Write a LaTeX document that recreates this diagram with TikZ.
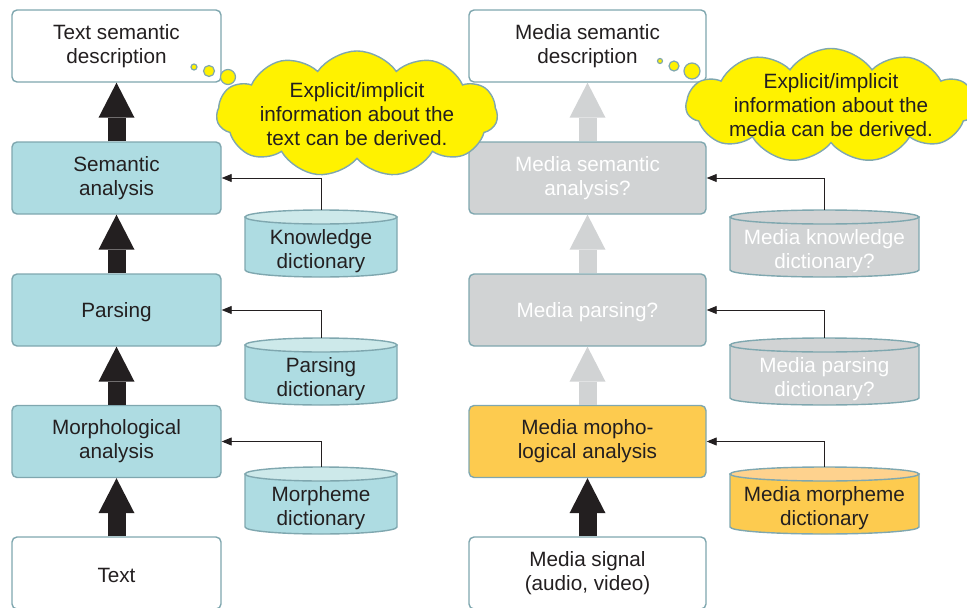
\documentclass[tikz,border=0pt]{standalone}
\usepackage{fontspec}
\setmainfont{Liberation Sans}
\usetikzlibrary{shapes.symbols,arrows.meta}

\definecolor{edge}{HTML}{7FA7AF}
\definecolor{lblue}{HTML}{AEDCE2}
\definecolor{lbluetop}{HTML}{CDE9EA}
\definecolor{lgray}{HTML}{D1D3D4}
\definecolor{lorange}{HTML}{FDCB4F}
\definecolor{lorangetop}{HTML}{FED28E}
\definecolor{thought}{HTML}{FFF200}
\definecolor{ink}{HTML}{231F20}

% drum behind a dictionary: centre x, top y, half width, body colour, top colour
\newcommand{\drum}[5]{%
  \filldraw[drumline,fill=#4] ({#1-#3},{#2+7}) -- ({#1-#3},{#2+60})
    arc[start angle=180,end angle=360,x radius=#3pt,y radius=7pt] -- ({#1+#3},{#2+7}) -- cycle;
  \filldraw[drumline,fill=#5] (#1,{#2+7}) ellipse [x radius=#3pt,y radius=7pt];
}

\tikzset{
  box/.style={rectangle,rounded corners=5pt,draw=edge,line width=1.4pt,minimum height=72pt,align=center,inner sep=0pt,execute at begin node=\rule{0pt}{19pt}},
  lbox/.style={box,minimum width=209pt},
  rbox/.style={box,minimum width=237pt},
  drumline/.style={draw=edge,line width=1.4pt},
  dict/.style={rectangle,minimum height=82pt,align=center,inner sep=0pt,outer sep=0pt},
  bigarrow/.style={line width=18pt,-{Triangle[length=35pt,width=36pt,line width=0pt]}},
  feed/.style={ink,line width=0.9pt,-{Triangle[length=10pt,width=8pt]}},
  cloudy/.style={cloud,cloud puffs=11,cloud puff arc=110,cloud ignores aspect,fill=thought,draw=edge,line width=1.4pt,align=center,inner sep=0pt},
  bubble/.style={fill=thought,draw=edge,line width=1.2pt}
}

\begin{document}
\begin{tikzpicture}[x=1pt,y=-1pt,font=\fontsize{20.7}{24}\selectfont,text=ink]
\useasboundingbox (0,0) rectangle (967,608);

% text side
\node[lbox,fill=white] (tdesc) at (116.5,46) {Text semantic\\description};
\node[lbox,fill=lblue] (tsem) at (116.5,178) {Semantic\\analysis};
\node[lbox,fill=lblue] (tpars) at (116.5,310) {Parsing};
\node[lbox,fill=lblue] (tmorph) at (116.5,441.5) {Morphological\\analysis};
\node[lbox,fill=white] (ttext) at (116.5,573) {Text};

\drum{321}{210}{76}{lblue}{lbluetop}
\drum{321}{338}{76}{lblue}{lbluetop}
\drum{321}{467}{76}{lblue}{lbluetop}
\node[dict] (tknow) at (321,251) {Knowledge\\dictionary};
\node[dict] (tpdict) at (321,379) {Parsing\\dictionary};
\node[dict] (tmdict) at (321,508) {Morpheme\\dictionary};

% media side
\node[rbox,fill=white] (mdesc) at (587.5,46) {Media semantic\\description};
\node[rbox,fill=lgray,text=white] (msem) at (587.5,178) {Media semantic\\analysis?};
\node[rbox,fill=lgray,text=white] (mpars) at (587.5,310) {Media parsing?};
\node[rbox,fill=lorange] (mmorph) at (587.5,441.5) {Media mopho-\\logical analysis};
\node[rbox,fill=white] (msig) at (587.5,573) {Media signal\\(audio, video)};

\drum{824.5}{210}{94.5}{lgray}{lgray}
\drum{824.5}{338}{94.5}{lgray}{lgray}
\drum{824.5}{467}{94.5}{lorange}{lorangetop}
\node[dict,text=white] (mknow) at (824.5,251) {Media knowledge\\dictionary?};
\node[dict,text=white] (mpdict) at (824.5,379) {Media parsing\\dictionary?};
\node[dict] (mmdict) at (824.5,508) {Media morpheme\\dictionary};

\draw[bigarrow,ink] (ttext) -- (tmorph);
\draw[bigarrow,ink] (tmorph) -- (tpars);
\draw[bigarrow,ink] (tpars) -- (tsem);
\draw[bigarrow,ink] (tsem) -- (tdesc);

\draw[bigarrow,ink] (msig) -- (mmorph);
\draw[bigarrow,lgray] (mmorph) -- (mpars);
\draw[bigarrow,lgray] (mpars) -- (msem);
\draw[bigarrow,lgray] (msem) -- (mdesc);

\draw[feed] (tknow.north) |- (tsem.east);
\draw[feed] (tpdict.north) |- (tpars.east);
\draw[feed] (tmdict.north) |- (tmorph.east);

\draw[feed] (mknow.north) |- (msem.east);
\draw[feed] (mpdict.north) |- (mpars.east);
\draw[feed] (mmdict.north) |- (mmorph.east);

% thought clouds
\draw[bubble] (194,67) circle (3);
\draw[bubble] (209,71) circle (5.5);
\draw[bubble] (228,77) circle (7.5);
\node[cloudy,minimum width=281pt,minimum height=118pt] (tnote) at (357,114) {Explicit/implicit\\information about the\\text can be derived.};

\draw[bubble] (660,61) circle (2.5);
\draw[bubble] (674,66) circle (5);
\draw[bubble] (692,71) circle (8);
\node[cloudy,inner ysep=-6pt,minimum width=290pt,minimum height=114pt] (mnote) at (831,105.5) {Explicit/implicit\\information about the\\media can be derived.};

\end{tikzpicture}
\end{document}
